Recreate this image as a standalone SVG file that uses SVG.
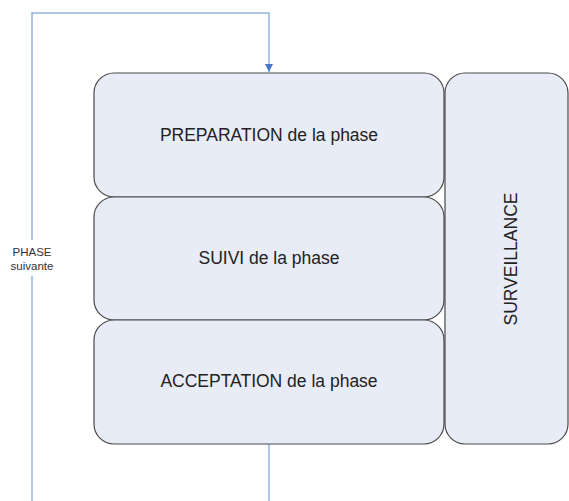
<svg xmlns="http://www.w3.org/2000/svg" width="569" height="501" viewBox="0 0 569 501">
  <style>
    .box { fill: #e8ecf6; stroke: #4a4a4a; stroke-width: 1.2; }
    .lbl { font-family: "Liberation Sans", Arial, sans-serif; font-size: 17.5px; fill: #222; text-anchor: middle; }
    .small { font-family: "Liberation Sans", Arial, sans-serif; font-size: 11.5px; fill: #333; text-anchor: middle; }
    .link { fill: none; stroke: #93b3e0; stroke-width: 1.5; }
  </style>
  <defs>
    <marker id="arrow" viewBox="0 0 10 10" refX="10" refY="5" markerWidth="8" markerHeight="8" markerUnits="userSpaceOnUse" orient="auto">
      <path d="M0,0 L10,5 L0,10 Z" fill="#4a78c8"/>
    </marker>
  </defs>

  <g id="connectors">
    <path class="link" d="M269,501 V444"/>
    <path class="link" d="M32,501 V276"/>
    <path class="link" d="M32,240 V13 H269 V72" marker-end="url(#arrow)"/>
  </g>

  <g id="surveillance">
    <rect class="box" x="445" y="73" width="123" height="371" rx="20" ry="20"/>
    <text class="lbl" transform="translate(517,259) rotate(-90)">SURVEILLANCE</text>
  </g>

  <g id="preparation">
    <rect class="box" x="94" y="73" width="350" height="124" rx="20" ry="20"/>
    <text class="lbl" x="269" y="141">PREPARATION de la phase</text>
  </g>

  <g id="suivi">
    <rect class="box" x="94" y="197" width="350" height="123" rx="20" ry="20"/>
    <text class="lbl" x="269" y="264">SUIVI de la phase</text>
  </g>

  <g id="acceptation">
    <rect class="box" x="94" y="320" width="350" height="124" rx="20" ry="20"/>
    <text class="lbl" x="269" y="387">ACCEPTATION de la phase</text>
  </g>

  <g id="phase-suivante">
    <text class="small" x="32" y="256">PHASE</text>
    <text class="small" x="32" y="270">suivante</text>
  </g>
</svg>
